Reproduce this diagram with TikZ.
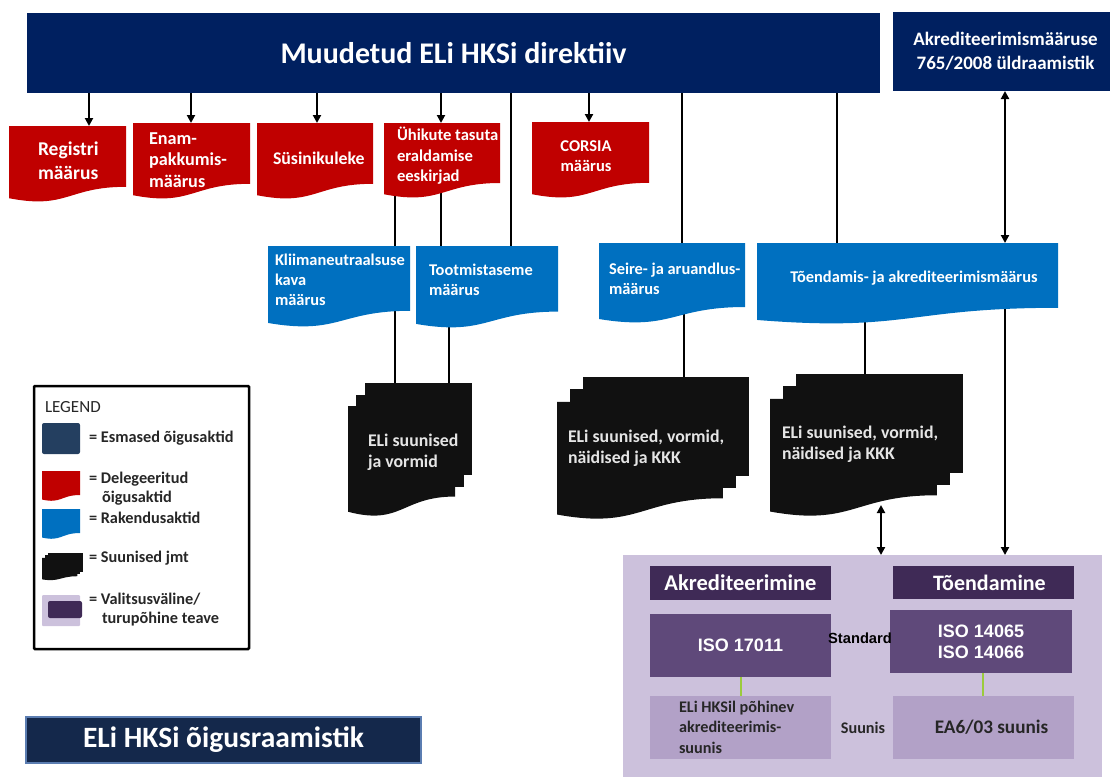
\documentclass[tikz,border=0pt]{standalone}
\usepackage{fontspec}
\setmainfont{Carlito}
\newfontfamily\arialf{Liberation Sans}
\usetikzlibrary{arrows.meta,calc}
\pgfdeclarelayer{bg}
\pgfsetlayers{bg,main}
\definecolor{navy}{HTML}{002060}
\definecolor{cred}{HTML}{C00000}
\definecolor{cblue}{HTML}{0070C0}
\definecolor{cblack}{HTML}{111111}
\definecolor{lav}{HTML}{CCC1DC}
\definecolor{dpur}{HTML}{3F2A56}
\definecolor{mpur}{HTML}{5F497A}
\definecolor{lpur}{HTML}{B2A1C7}
\definecolor{dtxt}{HTML}{262626}
\definecolor{slate}{HTML}{243F60}
\definecolor{botnavy}{HTML}{14284B}
\definecolor{botedge}{HTML}{5B7DB1}
\definecolor{ygreen}{HTML}{9BCB3C}
\newcommand\wavedoc[1]{%
 \fill[#1] let \p1=(path picture bounding box.south west), \p2=(path picture bounding box.north east), \n1={\y2-\y1} in
 (\x1,\y2) -- (\x2,\y2) -- (\x2,{\y1+0.2*\n1}) .. controls ({0.5*\x1+0.5*\x2},{\y1+0.2*\n1}) and ({0.5*\x1+0.5*\x2},{\y1-0.1*\n1}) .. (\x1,{\y1+0.05*\n1}) -- cycle;}
\newcommand\mdlet{let \p1=(path picture bounding box.south west), \p2=(path picture bounding box.north east), \n1={\x2-\x1}, \n2={\y2-\y1}, \n3={0.068*\n1}, \n4={0.088*\n2}, \n5={\n2-2*\n4} in}
\newcommand\multidoc[1]{%
 \fill[#1] \mdlet ({\x1+2*\n3},\y2) rectangle (\x2,{\y1+0.30*\n2});
 \fill[#1] \mdlet ({\x1+\n3},{\y2-\n4}) rectangle ({\x2-\n3},{\y1+0.21*\n2});
 \fill[#1] \mdlet (\x1,{\y2-2*\n4}) -- ({\x2-2*\n3},{\y2-2*\n4}) -- ({\x2-2*\n3},{\y1+0.17*\n5}) .. controls ({\x1+0.5*\n1-\n3},{\y1+0.17*\n5}) and ({\x1+0.5*\n1-\n3},{\y1-0.1*\n5}) .. (\x1,{\y1+0.03*\n5}) -- cycle;}
\tikzset{
 every node/.style={inner sep=0pt, outer sep=0pt},
 sized/.style 2 args={anchor=north west, minimum width=#1, minimum height=#2},
 reddoc/.style={path picture={\wavedoc{cred}}},
 bluedoc/.style={path picture={\wavedoc{cblue}}},
 blackdoc/.style={path picture={\multidoc{cblack}}},
 redtxt/.style={text=white, font=\bfseries\fontsize{18.2}{21.5}\selectfont, align=left, anchor=west},
 bluetxt/.style={text=white, font=\bfseries\fontsize{16.4}{20}\selectfont, align=left, anchor=west},
 blacktxt/.style={text=white!90!black, font=\bfseries\fontsize{17.8}{21}\selectfont, align=left, anchor=west},
 legtxt/.style={text=dtxt, font=\bfseries\fontsize{16.3}{19.5}\selectfont, align=left, anchor=west},
 purtxt/.style={text=dtxt, font=\bfseries\fontsize{16.2}{20.5}\selectfont, align=left},
 conn/.style={line width=2.4pt, black},
 arr/.style={conn, -{Triangle[length=8pt,width=8pt]}},
 dbl/.style={conn, {Triangle[length=8pt,width=8pt]}-{Triangle[length=8pt,width=8pt]}},
}
\begin{document}
\begin{tikzpicture}[x=1pt,y=-1pt]
\useasboundingbox (0,0) rectangle (1110,777);
% top boxes
\node[sized={853pt}{80pt}, fill=navy, text=white, font=\bfseries\fontsize{30}{34}\selectfont] (main) at (27,13) {Muudetud ELi HKSi direktiiv};
\node[sized={217pt}{79pt}, fill=navy, text=white, align=center, font=\bfseries\fontsize{19}{24}\selectfont] (akr) at (893,12) {\hspace*{8pt}Akrediteerimismääruse\\\hspace*{8pt}765/2008 üldraamistik};
% red documents
\node[sized={117pt}{76pt}, reddoc] (reg) at (9,126) {};
\node[sized={117pt}{76pt}, reddoc] (enam) at (133,123) {};
\node[sized={116pt}{76pt}, reddoc] (sus) at (257,123) {};
\node[sized={116pt}{75pt}, reddoc] (uhik) at (384,123) {};
\node[sized={117pt}{76pt}, reddoc] (cors) at (532,122) {};
\node[redtxt, font=\bfseries\fontsize{19.5}{24}\selectfont] (regT) at (38,161) {Registri\\määrus};
\node[redtxt] (enamT) at (149,160) {Enam-\\pakkumis-\\määrus};
\node[redtxt, font=\bfseries\fontsize{17.8}{21}\selectfont] (susT) at (273,158) {Süsinikuleke};
\node[redtxt, font=\bfseries\fontsize{16.6}{20.5}\selectfont] (uhikT) at (397,156) {Ühikute tasuta\\eraldamise\\eeskirjad};
\node[redtxt, align=center, anchor=center, font=\bfseries\fontsize{16.5}{20}\selectfont] (corsT) at (586,156) {CORSIA\\määrus};
% blue documents
\node[sized={142pt}{81pt}, bluedoc] (kli) at (268,246) {};
\node[sized={142pt}{82pt}, bluedoc] (toot) at (416,246) {};
\node[sized={146pt}{80pt}, bluedoc] (seire) at (599,243) {};
\node[sized={301pt}{81pt}, bluedoc] (toen) at (757,243) {};
\node[bluetxt] (kliT) at (275,280) {Kliimaneutraalsuse\\kava\\määrus};
\node[bluetxt] (tootT) at (429,280) {Tootmistaseme\\määrus};
\node[bluetxt] (seireT) at (609,279) {Seire- ja aruandlus-\\määrus};
\node[bluetxt, anchor=center] (toenT) at (914,278) {Tõendamis- ja akrediteerimismäärus};
% black guidance
\node[sized={124pt}{132pt}, blackdoc] (g1) at (348,383) {};
\node[sized={192pt}{141pt}, blackdoc] (g2) at (557,377) {};
\node[sized={193pt}{141pt}, blackdoc] (g3) at (770,374) {};
\node[blacktxt] (g1T) at (368,452) {ELi suunised\\ja vormid};
\node[blacktxt] (g2T) at (568,448) {ELi suunised, vormid,\\näidised ja KKK};
\node[blacktxt] (g3T) at (782,444) {ELi suunised, vormid,\\näidised ja KKK};
% purple region
\node[sized={479pt}{222pt}, fill=lav] (pur) at (623,555) {};
\node[sized={181pt}{34pt}, fill=dpur, text=white, font=\bfseries\fontsize{22.5}{24}\selectfont] (hdrA) at (650,566) {Akrediteerimine};
\node[sized={181pt}{33pt}, fill=dpur, text=white, font=\bfseries\fontsize{22}{24}\selectfont] (hdrT) at (893,566) {\hspace*{12pt}Tõendamine};
\node[sized={181pt}{63pt}, fill=mpur, text=white, font=\arialf\bfseries\fontsize{18}{21}\selectfont] (isoA) at (650,614) {ISO 17011};
\node[sized={182pt}{63pt}, fill=mpur, text=white, align=center, font=\arialf\bfseries\fontsize{18}{21}\selectfont] (isoT) at (890,610) {ISO 14065\\ISO 14066};
\node[sized={181pt}{63pt}, fill=lpur] (lowA) at (650,696) {};
\node[sized={181pt}{63pt}, fill=lpur, text=dtxt, font=\bfseries\fontsize{19.2}{22}\selectfont] (lowT) at (893,696) {\hspace*{16pt}EA6/03 suunis};
\node[purtxt, anchor=west] (lowAT) at (679,727) {ELi HKSil põhinev\\akrediteerimis-\\suunis};
\node[text=black, font=\arialf\bfseries\fontsize{14.7}{17}\selectfont] (std) at (860,638) {Standard};
\node[purtxt] (suun) at (863,728) {Suunis};
\coordinate (cA) at (741,0);
\coordinate (cT) at (983,0);
\draw[ygreen, line width=2pt] (isoA.south -| cA) -- (lowA.north -| cA);
\draw[ygreen, line width=2pt] (isoT.south -| cT) -- (lowT.north -| cT);
% legend
\node[sized={215pt}{263pt}, draw=black, line width=2.5pt, rounded corners=1pt] (leg) at (34,386) {};
\node[anchor=west, text=dtxt, font=\fontsize{17}{20}\selectfont] (legT) at (45,407) {LEGEND};
\node[sized={38pt}{31pt}, fill=slate, rounded corners=2pt] (l1) at (42,423) {};
\node[sized={38pt}{30pt}, reddoc] (l2) at (42,471) {};
\node[sized={38pt}{30pt}, bluedoc] (l3) at (42,509) {};
\node[sized={41pt}{27pt}, blackdoc] (l4) at (42,553) {};
\node[sized={38pt}{31pt}, fill=lav, rounded corners=1pt] (l5) at (42,595) {};
\node[sized={34pt}{17pt}, fill=dpur, rounded corners=2pt] (l5b) at (48,601) {};
\node[legtxt] (l1T) at (89,438) {= Esmased õigusaktid};
\node[legtxt] (l2T) at (89,488.5) {= Delegeeritud\\\hspace*{13pt}õigusaktid};
\node[legtxt] (l3T) at (89,518) {= Rakendusaktid};
\node[legtxt] (l4T) at (89,558) {= Suunised jmt};
\node[legtxt] (l5T) at (89,609.5) {= Valitsusväline/\\\hspace*{13pt}turupõhine teave};
% bottom title
\node[sized={395pt}{46pt}, fill=botnavy, draw=botedge, line width=1.5pt, text=white, font=\bfseries\fontsize{29.5}{32}\selectfont] (frame) at (26,717) {ELi HKSi õigusraamistik};
% connectors
\coordinate (x90) at (89,0);
\coordinate (x192) at (191,0);
\coordinate (x316) at (317,0);
\coordinate (x441) at (441,0);
\coordinate (x590) at (589,0);
\coordinate (x395) at (395,0);
\coordinate (x449) at (449,0);
\coordinate (x511) at (511,0);
\coordinate (x682) at (682,0);
\coordinate (x684) at (684,0);
\coordinate (x837) at (837,0);
\coordinate (x865) at (865,0);
\coordinate (x1005) at (1005,0);
\coordinate (x881) at (881,0);
\draw[arr] (main.south -| x90) -- (reg.north -| x90);
\draw[arr] (main.south -| x192) -- (enam.north -| x192);
\draw[arr] (main.south -| x316) -- (sus.north -| x316);
\draw[arr] (main.south -| x441) -- (uhik.north -| x441);
\draw[arr] (main.south -| x590) -- (cors.north -| x590);
\begin{pgfonlayer}{bg}
\draw[conn] (uhik.center -| x395) -- (g1.north -| x395);
\draw[conn] (uhik.center -| x441) -- (toot.center -| x441);
\draw[conn] (toot.center -| x449) -- (g1.north -| x449);
\draw[conn] (main.center -| x511) -- (toot.center -| x511);
\draw[conn] (main.center -| x682) -- (seire.center -| x682);
\draw[conn] (seire.center -| x684) -- (g2.north -| x684);
\draw[conn] (main.center -| x837) -- (toen.center -| x837);
\draw[conn] (toen.center -| x865) -- (g3.north -| x865);
\draw[arr] (toen.center -| x1005) -- (pur.north -| x1005);
\end{pgfonlayer}
\draw[dbl] (akr.south -| x1005) -- (toen.north -| x1005);
\draw[dbl, shorten <=-10pt] (g3.south -| x881) -- (pur.north -| x881);
\end{tikzpicture}
\end{document}
